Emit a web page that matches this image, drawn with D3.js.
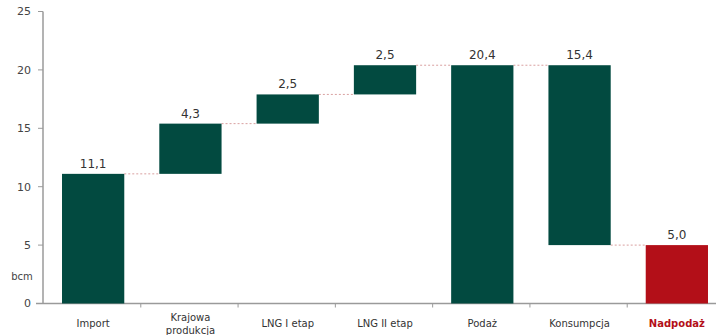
<!DOCTYPE html>
<html>
<head>
<meta charset="utf-8">
<script src="https://cdn.jsdelivr.net/npm/d3@7/dist/d3.min.js"></script>
<style>
  html, body { margin: 0; padding: 0; background: #fff; }
  svg { display: block; font-family: "DejaVu Sans", Verdana, sans-serif; }
</style>
</head>
<body>
<svg id="chart" width="716" height="335"></svg>
<script>
// Gas balance waterfall (bcm)
const categories = ["Import", "Krajowa produkcja", "LNG I etap", "LNG II etap", "Podaż", "Konsumpcja", "Nadpodaż"];
const barStart   = [0, 11.1, 15.4, 17.9, 0, 5.0, 0];
const barEnd     = [11.1, 15.4, 17.9, 20.4, 20.4, 20.4, 5.0];
const valueLabels = ["11,1", "4,3", "2,5", "2,5", "20,4", "15,4", "5,0"];
const yTicks = [0, 5, 10, 15, 20, 25];
const highlighted = "Nadpodaż";

const svg = d3.select("#chart");
const green = "#024a40", red = "#b30f18";
const axisColor = "#9a9a9a";

const x = d3.scaleBand().domain(categories).range([44.5, 725.5]).paddingInner(0.36).paddingOuter(0.18);
const y = d3.scaleLinear().domain([0, 25]).range([303.5, 11.5]);
const axisX = 43;

// axes
svg.append("line").attr("x1", axisX).attr("x2", axisX).attr("y1", y(25)).attr("y2", y(0))
  .attr("stroke", axisColor).attr("stroke-width", 1.5);
svg.append("line").attr("x1", 36).attr("x2", 716).attr("y1", y(0)).attr("y2", y(0))
  .attr("stroke", axisColor).attr("stroke-width", 1.5);

const yAxis = svg.append("g");
yAxis.selectAll("line").data(yTicks).join("line")
  .attr("x1", 38).attr("x2", axisX).attr("y1", d => y(d)).attr("y2", d => y(d))
  .attr("stroke", axisColor);
yAxis.selectAll("text").data(yTicks).join("text")
  .attr("x", 31).attr("y", d => y(d)).attr("dy", "0.35em").attr("text-anchor", "end")
  .attr("font-size", 11).attr("fill", "#444").text(d => d);
svg.append("text").attr("x", 22).attr("y", 276).attr("dy", "0.35em").attr("text-anchor", "middle")
  .attr("font-size", 10).attr("fill", "#444").text("bcm");

// category boundary ticks
const step = x.step();
svg.append("g").selectAll("line").data(categories.slice(1)).join("line")
  .attr("x1", d => x(d) - (step - x.bandwidth()) / 2 - 1).attr("x2", d => x(d) - (step - x.bandwidth()) / 2 - 1)
  .attr("y1", y(0)).attr("y2", y(0) + 4).attr("stroke", axisColor);

// connectors between consecutive bars
const links = [];
for (let i = 0; i < categories.length - 1; i++) {
  const level = i === 5 ? barStart[i] : barEnd[i];
  links.push({ from: categories[i], to: categories[i + 1], v: level });
}
svg.append("g").selectAll("line").data(links).join("line")
  .attr("x1", d => x(d.from) + x.bandwidth()).attr("x2", d => x(d.to))
  .attr("y1", d => y(d.v)).attr("y2", d => y(d.v))
  .attr("stroke", "#d9a0a0").attr("stroke-width", 1).attr("stroke-dasharray", "2,2");

// bars
svg.append("g").selectAll("rect").data(categories).join("rect")
  .attr("x", d => x(d)).attr("width", x.bandwidth())
  .attr("y", (d, i) => y(barEnd[i])).attr("height", (d, i) => y(barStart[i]) - y(barEnd[i]))
  .attr("fill", d => d === highlighted ? red : green);

// value labels
svg.append("g").selectAll("text").data(categories).join("text")
  .attr("x", d => x(d) + x.bandwidth() / 2).attr("y", (d, i) => y(barEnd[i]) - 6)
  .attr("text-anchor", "middle").attr("font-size", 12).attr("fill", "#333")
  .text((d, i) => valueLabels[i]);

// category labels
const catG = svg.append("g");
categories.forEach(c => {
  const words = c === "Krajowa produkcja" ? ["Krajowa", "produkcja"] : [c];
  const cx = x(c) + x.bandwidth() / 2;
  const t = catG.append("text").attr("x", cx).attr("text-anchor", "middle")
    .attr("font-size", 10)
    .attr("fill", c === highlighted ? red : "#333")
    .attr("font-weight", c === highlighted ? "bold" : "normal");
  const y0 = words.length === 1 ? 327 : 321;
  words.forEach((w, k) => t.append("tspan").attr("x", cx).attr("y", y0 + k * 13).text(w));
});
</script>
</body>
</html>
